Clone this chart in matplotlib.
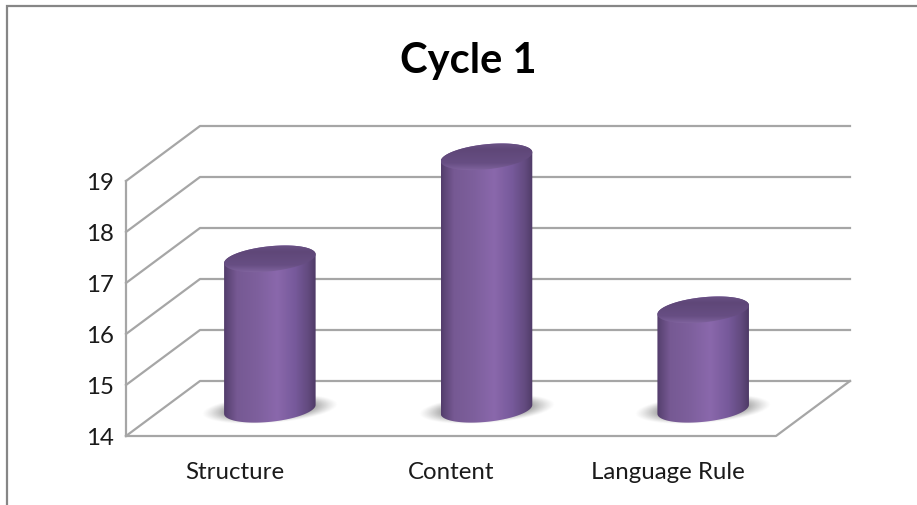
import numpy as np
import matplotlib
matplotlib.use("Agg")
import matplotlib.pyplot as plt
from matplotlib.lines import Line2D
from matplotlib.path import Path
from matplotlib.patches import PathPatch
from matplotlib.colors import to_rgb, LinearSegmentedColormap

categories = ["Structure", "Content", "Language Rule"]
values = [17, 19, 16]
y_ticks = [14, 15, 16, 17, 18, 19]
title = "Cycle 1"

W, H = 917, 506
plt.rcParams['font.family'] = ['Lato', 'DejaVu Sans']
fig = plt.figure(figsize=(W / 100, H / 100), dpi=100, facecolor='white')

# front plane of the chart, in pixels
L, R, B, T = 126, 776, 437, 182
ax = fig.add_axes([L / W, 1 - B / H, (R - L) / W, (B - T) / H])
ax.set_xlim(0, 3)
ax.set_ylim(14, 19)
ax.autoscale(False)
ax.patch.set_visible(False)
for s in ax.spines.values():
    s.set_visible(False)

sx = (R - L) / 3      # px per category
sy = (B - T) / 5      # px per value
DX, DY = 74 / sx, 55 / sy   # depth offset in data units
GRID = '#A6A6A6'
LW = 1.6

ax.set_xticks([i + 0.5 for i in range(len(categories))], categories)
ax.set_yticks(y_ticks)
ax.tick_params(axis='x', length=0, pad=18, labelsize=17.3, labelcolor='#1a1a1a')
ax.tick_params(axis='y', length=0, pad=9, labelsize=17.3, labelcolor='#1a1a1a')

kw = dict(color=GRID, lw=LW, clip_on=False, zorder=1, solid_capstyle='projecting')
for v in y_ticks:
    ax.plot([0, DX, 3 + DX], [v, v + DY, v + DY], **kw)
ax.plot([0, 0], [14, 19], **kw)
ax.plot([0, 3, 3 + DX], [14, 14, 14 + DY], **kw)

DEPTH_X, DEPTH_Y = 0.48, 0.44
A, Bm, TH = 46.0, 12.5, np.radians(6)


def ellipse_pts(t):
    dx = A * np.cos(t) * np.cos(TH) - Bm * np.sin(t) * np.sin(TH)
    dy = A * np.cos(t) * np.sin(TH) + Bm * np.sin(t) * np.cos(TH)
    return dx / sx, dy / sy


def image(arr, extent, cmap=None, clip=None, z=3):
    im = ax.imshow(arr, extent=extent, aspect='auto', origin='lower', cmap=cmap,
                   zorder=z, interpolation='bilinear')
    im.set_clip_box(fig.bbox)
    if clip is not None:
        im.set_clip_path(clip)
    return im


body_cmap = LinearSegmentedColormap.from_list('body', [
    (0.00, '#523C6B'), (0.04, '#5E4678'), (0.14, '#765993'), (0.35, '#7D5F9C'),
    (0.58, '#8A68AC'), (0.78, '#76599A'), (0.92, '#624A7E'), (1.00, '#4E3A66')])
top_cmap = LinearSegmentedColormap.from_list('top', [
    (0.00, '#8C70AC'), (0.10, '#7B5F99'), (0.30, '#674E83'), (0.75, '#5F4778'), (1.00, '#6C5488')])

t_r = np.arctan2(-Bm * np.sin(TH), A * np.cos(TH))
ext_x, _ = ellipse_pts(np.array([t_r]))
ext_x = abs(ext_x[0])

for i, v in enumerate(values):
    cx = i + 0.5 + DX * DEPTH_X
    base = 14 + DY * DEPTH_Y + 2.5 / sy
    top = v + DY * DEPTH_Y

    # soft shadow under the cylinder
    gx = np.linspace(-72, 72, 200)
    gy = np.linspace(-26, 26, 80)
    X, Y = np.meshgrid(gx, gy)
    Yt = Y - 0.07 * X
    r = np.sqrt((X / 62.0) ** 2 + (Yt / 13.0) ** 2)
    alpha = np.clip((1.1 - r) / 0.5, 0, 1) ** 1.2 * 0.7
    rgba = np.zeros(X.shape + (4,))
    rgba[..., :3] = to_rgb('#555555')
    rgba[..., 3] = alpha
    image(rgba, [cx + gx[0] / sx, cx + gx[-1] / sx, base + gy[0] / sy, base + gy[-1] / sy], z=2)

    # body
    t1 = np.linspace(t_r + np.pi, t_r + 2 * np.pi, 80)
    t2 = np.linspace(t_r, t_r + np.pi, 80)
    x1, y1 = ellipse_pts(t1)
    x2, y2 = ellipse_pts(t2)
    vx = np.r_[cx + x1, cx + x2]
    vy = np.r_[base + y1, top + y2]
    verts = np.column_stack([np.r_[vx, vx[0]], np.r_[vy, vy[0]]])
    patch = PathPatch(Path(verts, closed=True), transform=ax.transData, fc='none', ec='none')
    ax.add_patch(patch)
    grad = np.linspace(0, 1, 256).reshape(1, -1)
    image(grad, [cx - ext_x, cx + ext_x, 14, top + 20 / sy], cmap=body_cmap, clip=patch, z=3)

    # top face
    t = np.linspace(0, 2 * np.pi, 160)
    ex, ey = ellipse_pts(t)
    tv = np.column_stack([cx + ex, top + ey])
    tpatch = PathPatch(Path(tv, closed=True), transform=ax.transData, fc='none', ec='none')
    ax.add_patch(tpatch)
    grad2 = np.linspace(0, 1, 128).reshape(-1, 1)
    image(grad2, [cx - ext_x, cx + ext_x, top - 15 / sy, top + 15 / sy], cmap=top_cmap, clip=tpatch, z=4)

ax.set_xlim(0, 3)
ax.set_ylim(14, 19)

fig.text(468 / W, 1 - 61 / H, title, ha='center', va='center', fontsize=30,
         fontweight='bold', color='black')

# outer chart frame (only top and left visible)
FR = '#868686'
fig.add_artist(Line2D([7 / W, 7 / W, 1], [0, 1 - 7 / H, 1 - 7 / H], color=FR, lw=1.6,
                      transform=fig.transFigure, solid_joinstyle='miter'))

fig.savefig('out.png', dpi=100)
